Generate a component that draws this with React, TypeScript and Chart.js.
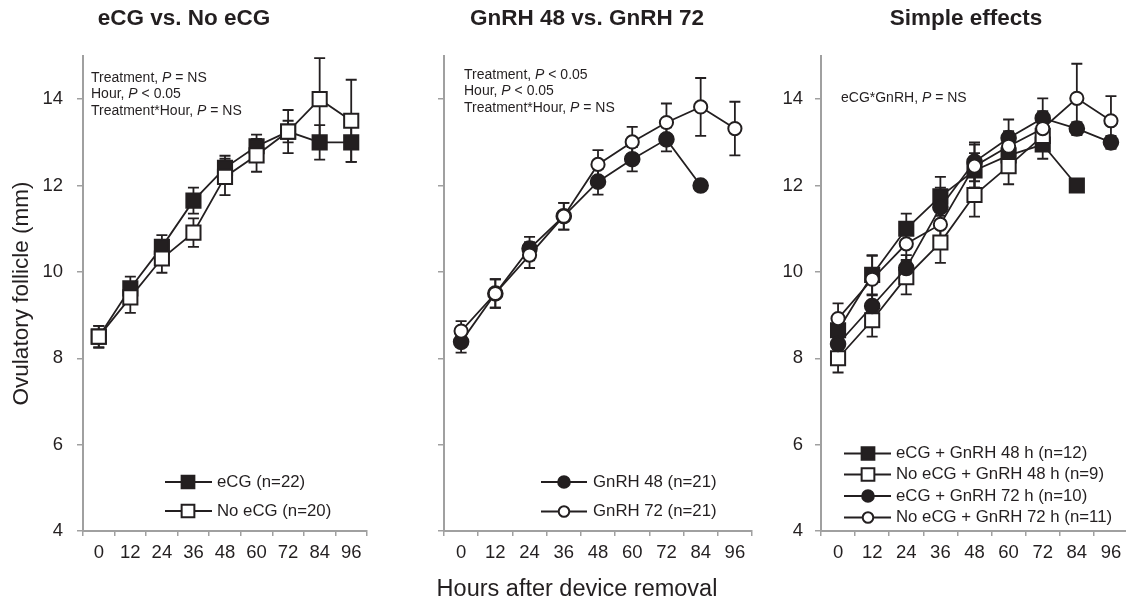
import React, { useEffect, useRef } from 'react';
import { Chart, registerables } from 'chart.js';

Chart.register(...registerables);

// ---------------- data ----------------
const hours = ['0', '12', '24', '36', '48', '60', '72', '84', '96'];
const yTickValues = [4, 6, 8, 10, 12, 14];

// Panel 1: eCG vs. No eCG
const ecgMean = [8.5, 9.62, 10.58, 11.65, 12.41, 12.91, 13.25, 13.0, 13.0];
const ecgErr = [0.25, 0.27, 0.27, 0.3, 0.28, 0.27, 0.25, 0.4, 0.45];
const noEcgMean = [8.5, 9.41, 10.31, 10.91, 12.2, 12.7, 13.25, 14.0, 13.5];
const noEcgErr = [0.25, 0.36, 0.33, 0.33, 0.42, 0.38, 0.5, 0.95, 0.95];
const panel1Labels = ['eCG (n=22)', 'No eCG (n=20)'];

// Panel 2: GnRH 48 vs. GnRH 72
const gnrh48Mean = [8.38, 9.5, 10.54, 11.29, 12.09, 12.61, 13.07, 12.0, null];
const gnrh48Err = [0.25, 0.33, 0.27, 0.31, 0.3, 0.28, 0.28, 0, null];
const gnrh72Mean = [8.63, 9.5, 10.39, 11.29, 12.49, 13.01, 13.46, 13.82, 13.32];
const gnrh72Err = [0.23, 0.33, 0.3, 0.31, 0.33, 0.35, 0.44, 0.67, 0.62];
const panel2Labels = ['GnRH 48 (n=21)', 'GnRH 72 (n=21)'];

// Panel 3: Simple effects
const ecg48Mean = [8.65, 9.93, 11.0, 11.75, 12.35, 12.7, 12.95, 12.0, null];
const ecg48Err = [0.3, 0.45, 0.35, 0.45, 0.4, 0.35, 0.33, 0, null];
const noEcg48Mean = [8.0, 8.88, 9.88, 10.68, 11.78, 12.45, 13.15, null, null];
const noEcg48Err = [0.33, 0.38, 0.4, 0.47, 0.5, 0.42, 0.35, null, null];
const ecg72Mean = [8.33, 9.21, 10.09, 11.5, 12.55, 13.1, 13.56, 13.32, 13.0];
const ecg72Err = [0.25, 0.25, 0.3, 0.45, 0.45, 0.43, 0.46, 0.15, 0.15];
const noEcg72Mean = [8.92, 9.83, 10.65, 11.1, 12.45, 12.91, 13.32, 14.02, 13.5];
const noEcg72Err = [0.35, 0.55, 0.4, 0.4, 0.5, 0.35, 0.4, 0.8, 0.57];
const panel3Labels = [
  'eCG + GnRH 48 h (n=12)',
  'No eCG + GnRH 48 h (n=9)',
  'eCG + GnRH 72 h (n=10)',
  'No eCG + GnRH 72 h (n=11)',
];

const titles = ['eCG vs. No eCG', 'GnRH 48 vs. GnRH 72', 'Simple effects'];
const yAxisTitle = 'Ovulatory follicle (mm)';
const xAxisTitle = 'Hours after device removal';

// ---------------- styles ----------------
const FONT = "'Liberation Sans', Arial, Helvetica, sans-serif";
const INK = '#231f20';
const AXIS = '#a0a0a0';
const LINE_W = 1.8;

type Marker = { style: 'rect' | 'circle'; radius: number; fill: string };
const filledSquare: Marker = { style: 'rect', radius: 10, fill: INK };
const openSquare: Marker = { style: 'rect', radius: 10, fill: '#ffffff' };
const filledCircle: Marker = { style: 'circle', radius: 7.3, fill: INK };
const openCircle: Marker = { style: 'circle', radius: 6.6, fill: '#ffffff' };

function makeDataset(label: string, data: (number | null)[], errors: (number | null)[], m: Marker, order: number) {
  return {
    label,
    data,
    errors,
    marker: m,
    order,
    borderColor: INK,
    borderWidth: LINE_W,
    backgroundColor: m.fill,
    pointStyle: m.style,
    pointRadius: m.radius,
    pointBackgroundColor: m.fill,
    pointBorderColor: INK,
    pointBorderWidth: 2,
    fill: false,
    tension: 0,
    spanGaps: false,
  };
}

function drawMarker(ctx: CanvasRenderingContext2D, m: Marker, x: number, y: number, scale = 1) {
  const r = m.radius * scale;
  ctx.save();
  ctx.beginPath();
  if (m.style === 'rect') {
    const s = r * Math.SQRT1_2;
    ctx.rect(x - s, y - s, 2 * s, 2 * s);
  } else {
    ctx.arc(x, y, r, 0, Math.PI * 2);
  }
  ctx.fillStyle = m.fill;
  ctx.fill();
  ctx.lineWidth = 2;
  ctx.strokeStyle = INK;
  ctx.stroke();
  ctx.restore();
}

type Part = { text: string; italic?: boolean; bold?: boolean };
type TextItem = { parts: Part[]; x: number; y: number; size: number; align: 'left' | 'center'; rotate?: boolean };

function fontFor(p: Part, size: number) {
  return `${p.italic ? 'italic ' : ''}${p.bold ? 'bold ' : ''}${size}px ${FONT}`;
}

function drawTextItem(ctx: CanvasRenderingContext2D, t: TextItem) {
  ctx.save();
  ctx.fillStyle = INK;
  ctx.textBaseline = 'middle';
  ctx.textAlign = 'left';
  let total = 0;
  const widths = t.parts.map((p) => {
    ctx.font = fontFor(p, t.size);
    const w = ctx.measureText(p.text).width;
    total += w;
    return w;
  });
  ctx.translate(t.x, t.y);
  if (t.rotate) ctx.rotate(-Math.PI / 2);
  let x = t.align === 'center' ? -total / 2 : 0;
  t.parts.forEach((p, i) => {
    ctx.font = fontFor(p, t.size);
    ctx.fillText(p.text, x, 0);
    x += widths[i];
  });
  ctx.restore();
}

type LegendCfg = { x1: number; x2: number; xm: number; xt: number; rows: number[]; labels: string[]; size: number };

const errorBarPlugin = {
  id: 'errorBars',
  beforeDatasetsDraw(chart: any) {
    const ctx = chart.ctx as CanvasRenderingContext2D;
    const yScale = chart.scales.y;
    ctx.save();
    ctx.strokeStyle = INK;
    ctx.lineWidth = LINE_W;
    chart.data.datasets.forEach((ds: any, di: number) => {
      const errs = ds.errors as (number | null)[];
      if (!errs) return;
      const meta = chart.getDatasetMeta(di);
      ds.data.forEach((v: number | null, i: number) => {
        const e = errs[i];
        if (v == null || !e) return;
        const x = meta.data[i].x;
        const yt = yScale.getPixelForValue(v + e);
        const yb = yScale.getPixelForValue(v - e);
        ctx.beginPath();
        ctx.moveTo(x, yt);
        ctx.lineTo(x, yb);
        ctx.moveTo(x - 5.5, yt);
        ctx.lineTo(x + 5.5, yt);
        ctx.moveTo(x - 5.5, yb);
        ctx.lineTo(x + 5.5, yb);
        ctx.stroke();
      });
    });
    ctx.restore();
  },
};

function makeDecoPlugin(texts: TextItem[], legend: LegendCfg) {
  return {
    id: 'deco',
    afterDraw(chart: any) {
      const ctx = chart.ctx as CanvasRenderingContext2D;
      texts.forEach((t) => drawTextItem(ctx, t));
      chart.data.datasets.forEach((ds: any, i: number) => {
        const y = legend.rows[i];
        ctx.save();
        ctx.strokeStyle = INK;
        ctx.lineWidth = LINE_W;
        ctx.beginPath();
        ctx.moveTo(legend.x1, y);
        ctx.lineTo(legend.x2, y);
        ctx.stroke();
        ctx.restore();
        const m = ds.marker as Marker;
        drawMarker(ctx, m, legend.xm, y, m.style === 'circle' ? 0.8 : 0.9);
        drawTextItem(ctx, { parts: [{ text: legend.labels[i] }], x: legend.xt, y, size: legend.size, align: 'left' });
      });
    },
  };
}

type PanelCfg = {
  left: number;
  width: number;
  padRight: number;
  yWidth: number;
  showYLabels: boolean;
  yLabelPadding: number;
  yTitle: boolean;
  datasets: any[];
  texts: TextItem[];
  legend: LegendCfg;
};

function Panel({ cfg }: { cfg: PanelCfg }) {
  const ref = useRef<HTMLCanvasElement | null>(null);
  useEffect(() => {
    if (!ref.current) return;
    const chart = new Chart(ref.current, {
      type: 'line',
      data: { labels: hours, datasets: cfg.datasets },
      plugins: [errorBarPlugin as any, makeDecoPlugin(cfg.texts, cfg.legend) as any],
      options: {
        responsive: false,
        animation: false,
        events: [],
        layout: { padding: { left: 0, right: cfg.padRight, top: 56, bottom: 33 } },
        plugins: {
          legend: { display: false },
          tooltip: { enabled: false },
          title: { display: false },
        },
        scales: {
          x: {
            type: 'category',
            offset: true,
            grid: { offset: true, drawOnChartArea: false, drawTicks: true, tickLength: 5, color: AXIS, lineWidth: 1.5 },
            border: { display: true, color: AXIS, width: 2 },
            ticks: { font: { family: FONT, size: 18.5 }, color: INK, padding: 6, autoSkip: false, maxRotation: 0 },
            afterFit: (s: any) => {
              s.height = 40;
            },
          },
          y: {
            type: 'linear',
            min: 4,
            max: 15,
            afterBuildTicks: (s: any) => {
              s.ticks = yTickValues.map((v) => ({ value: v }));
            },
            afterFit: (s: any) => {
              s.width = cfg.yWidth;
            },
            grid: { drawOnChartArea: false, drawTicks: true, tickLength: 6, color: AXIS, lineWidth: 1.5 },
            border: { display: true, color: AXIS, width: 2 },
            ticks: {
              display: cfg.showYLabels,
              font: { family: FONT, size: 18.5 },
              color: INK,
              padding: cfg.yLabelPadding,
            },
            title: {
              display: cfg.yTitle,
              text: yAxisTitle,
              font: { family: FONT, size: 22.5 },
              color: INK,
              padding: { top: 8, bottom: 0 },
            },
          },
        },
      } as any,
    });
    return () => chart.destroy();
  }, [cfg]);
  return (
    <canvas
      ref={ref}
      width={cfg.width}
      height={604}
      style={{ position: 'absolute', left: cfg.left, top: 0, width: cfg.width, height: 604 }}
    />
  );
}

const annSize = 14;
const titleSize = 22.5;

const panels: PanelCfg[] = [
  {
    left: 0,
    width: 400,
    padRight: 33,
    yWidth: 83,
    showYLabels: true,
    yLabelPadding: 14,
    yTitle: true,
    datasets: [
      makeDataset(panel1Labels[0], ecgMean, ecgErr, filledSquare, 1),
      makeDataset(panel1Labels[1], noEcgMean, noEcgErr, openSquare, 0),
    ],
    texts: [
      { parts: [{ text: titles[0], bold: true }], x: 184, y: 19, size: titleSize, align: 'center' },
      { parts: [{ text: 'Treatment, ' }, { text: 'P', italic: true }, { text: ' = NS' }], x: 91, y: 78, size: annSize, align: 'left' },
      { parts: [{ text: 'Hour, ' }, { text: 'P', italic: true }, { text: ' < 0.05' }], x: 91, y: 94.5, size: annSize, align: 'left' },
      { parts: [{ text: 'Treatment*Hour, ' }, { text: 'P', italic: true }, { text: ' = NS' }], x: 91, y: 111, size: annSize, align: 'left' },
    ],
    legend: { x1: 165, x2: 212, xm: 188, xt: 217, rows: [482, 511], labels: panel1Labels, size: 16.8 },
  },
  {
    left: 400,
    width: 380,
    padRight: 28,
    yWidth: 44,
    showYLabels: false,
    yLabelPadding: 10,
    yTitle: false,
    datasets: [
      makeDataset(panel2Labels[0], gnrh48Mean, gnrh48Err, filledCircle, 1),
      makeDataset(panel2Labels[1], gnrh72Mean, gnrh72Err, openCircle, 0),
    ],
    texts: [
      { parts: [{ text: titles[1], bold: true }], x: 187, y: 19, size: titleSize, align: 'center' },
      { parts: [{ text: 'Treatment, ' }, { text: 'P', italic: true }, { text: ' < 0.05' }], x: 64, y: 74.7, size: annSize, align: 'left' },
      { parts: [{ text: 'Hour, ' }, { text: 'P', italic: true }, { text: ' < 0.05' }], x: 64, y: 91.5, size: annSize, align: 'left' },
      { parts: [{ text: 'Treatment*Hour, ' }, { text: 'P', italic: true }, { text: ' = NS' }], x: 64, y: 108.3, size: annSize, align: 'left' },
      { parts: [{ text: xAxisTitle }], x: 177, y: 590, size: 23.5, align: 'center' },
    ],
    legend: { x1: 141, x2: 187, xm: 164, xt: 193, rows: [482, 511.5], labels: panel2Labels, size: 16.8 },
  },
  {
    left: 780,
    width: 360,
    padRight: 9,
    yWidth: 41,
    showYLabels: true,
    yLabelPadding: 12,
    yTitle: false,
    datasets: [
      makeDataset(panel3Labels[0], ecg48Mean, ecg48Err, filledSquare, 3),
      makeDataset(panel3Labels[1], noEcg48Mean, noEcg48Err, openSquare, 2),
      makeDataset(panel3Labels[2], ecg72Mean, ecg72Err, filledCircle, 1),
      makeDataset(panel3Labels[3], noEcg72Mean, noEcg72Err, openCircle, 0),
    ],
    texts: [
      { parts: [{ text: titles[2], bold: true }], x: 186, y: 19, size: titleSize, align: 'center' },
      { parts: [{ text: 'eCG*GnRH, ' }, { text: 'P', italic: true }, { text: ' = NS' }], x: 61, y: 97.7, size: annSize, align: 'left' },
    ],
    legend: { x1: 64, x2: 111, xm: 88, xt: 116, rows: [453.5, 474.5, 496, 517.5], labels: panel3Labels, size: 16.8 },
  },
];

export default function App() {
  return (
    <div
      style={{
        position: 'absolute',
        left: 0,
        top: 0,
        width: 1126,
        height: 604,
        overflow: 'hidden',
        background: '#ffffff',
      }}
    >
      {panels.map((p, i) => (
        <Panel key={i} cfg={p} />
      ))}
    </div>
  );
}
